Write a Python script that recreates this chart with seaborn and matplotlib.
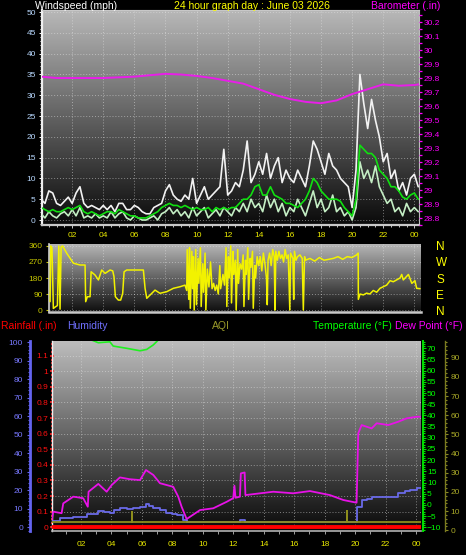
import numpy as np
import pandas as pd
import matplotlib
matplotlib.use("Agg")
import matplotlib.pyplot as plt
import seaborn as sns
from matplotlib.colors import LinearSegmentedColormap
from matplotlib.ticker import MultipleLocator, FixedLocator, FormatStrFormatter, NullFormatter

# ---------------- data ----------------
title = "24 hour graph day : June 03 2026"
hour_ticks = [2, 4, 6, 8, 10, 12, 14, 16, 18, 20, 22, 24]
hour_labels = ["02", "04", "06", "08", "10", "12", "14", "16", "18", "20", "22", "00"]

# wind, 15-minute samples starting at 00:00 (mph)
wind_hours = np.arange(0, 24.3, 0.25)
gust = [5, 4, 7, 6.5, 4, 3.5, 4.5, 5.5,
        4, 6.5, 8, 4, 3, 3.5, 3, 2.5,
        3.5, 2.5, 3.5, 2, 4, 4, 2.5, 2.5,
        3.5, 3, 2, 1.5, 1.5, 3, 3.5, 4,
        7, 8.5, 6, 5, 4.5, 6, 5, 10,
        4, 6, 8, 5, 6, 7, 8, 17,
        6, 7, 9, 8, 12, 19, 9, 11,
        14, 11, 16, 10, 13, 15, 9, 12,
        10, 9, 12, 10, 8, 13, 19, 17,
        14, 11, 16, 13, 12, 10, 9, 8,
        3, 12, 35, 28, 22, 29, 24, 20,
        14, 16, 10, 12, 7, 9, 6, 10,
        11, 8]
speed = [1.5, 0.5, 2, 1, 0.5, 1.5, 2, 1,
         2.5, 1, 3, 0.5, 1, 0.5, 1.5, 0.5,
         1, 0.5, 2, 0.5, 1.5, 2, 0.5, 0,
         1, 0.5, 0, 0, 0.5, 1, 0, 1.5,
         2, 3, 1.5, 2.5, 1, 2, 0.5, 3,
         1, 2, 3, 0.5, 1.5, 2.5, 1, 3,
         2, 1, 3, 2, 4, 2, 5, 3,
         4, 2, 6, 3, 5, 2, 4, 1,
         3, 2, 5, 3, 1, 4, 7, 3,
         5, 2, 3, 6, 2, 3, 1, 2,
         0, 3, 14, 10, 12, 9, 13, 8,
         6, 4, 5, 2, 3, 1, 4, 2,
         3, 2]
avg = [3, 2.5, 2, 2.5, 2, 2, 2.5, 3,
       2.5, 3, 3.5, 2, 1.5, 2, 1.5, 1,
       1.5, 2, 2, 1.5, 2.5, 2, 1.5, 1,
       1, 0.5, 0.5, 0.5, 1, 1.5, 2, 3,
       3.5, 4, 3.5, 3.5, 3, 3.5, 3, 2.5,
       3, 2.5, 2.5, 3, 2, 3, 2.5, 3,
       2.5, 3, 3, 4, 5, 5, 6, 8,
       8.5, 6, 6, 8, 6, 5.5, 5, 4,
       4, 3.5, 3, 4, 5, 7, 10, 9,
       7, 6, 5, 5, 5, 4.5, 3, 2,
       1, 5, 18, 17, 16, 16, 15, 12,
       11, 10, 8, 8, 7, 5.5, 5, 6,
       6.5, 5]

# barometer (inHg)
baro_hours = [0, 1, 2, 3, 4, 5, 6, 7, 8, 9, 10, 11, 12, 13, 14, 15, 16, 17, 18,
              19, 20, 21, 22, 23, 24, 24.3]
baro = [29.81, 29.80, 29.80, 29.80, 29.80, 29.805, 29.81, 29.82, 29.83, 29.825,
        29.815, 29.80, 29.78, 29.76, 29.72, 29.68, 29.65, 29.63, 29.62, 29.64,
        29.685, 29.72, 29.755, 29.745, 29.75, 29.755]

# wind direction (degrees)
dir_hours = [0.58, 0.62, 0.70, 0.79, 0.94, 1.05, 1.14, 1.22, 1.29, 1.39, 1.65, 2.08,
             2.51, 2.83, 2.87, 2.98, 3.15, 3.22, 3.47, 3.69, 3.90, 4.12, 4.44, 4.61,
             4.69, 4.78, 4.97, 5.12, 5.25, 5.34, 5.51, 6.58, 6.69, 6.80, 7.01, 7.33,
             7.65, 8.08, 8.51, 8.94, 9.26, 9.37,
             9.40, 9.50, 9.55, 9.60, 9.70, 9.75, 9.80, 9.85, 9.95, 10.0, 10.1, 10.15,
             10.25, 10.3, 10.4, 10.45, 10.55, 10.6, 10.7, 10.8, 10.9, 11.0, 11.1,
             11.2, 11.3, 11.4, 11.5, 11.55, 11.7, 11.8,
             11.9, 11.95, 12.05, 12.1, 12.2, 12.25, 12.35, 12.4, 12.5, 12.55, 12.65,
             12.7, 12.8, 12.9, 13.0, 13.05, 13.15, 13.2, 13.3, 13.35, 13.45, 13.5,
             13.6, 13.65, 13.75, 13.8, 13.9,
             14.0, 14.1, 14.2, 14.3, 14.4, 14.5, 14.55, 14.6, 14.7, 14.8, 14.9, 15.0,
             15.05, 15.1, 15.2, 15.3, 15.4, 15.5, 15.6, 15.7, 15.8, 15.9, 16.0, 16.05,
             16.2, 16.25, 16.3, 16.4, 16.5, 16.65, 16.8, 16.87, 16.95,
             17.0, 17.3, 17.6, 17.9, 18.2, 18.5, 18.8, 19.1, 19.4, 19.7, 20.0, 20.3,
             20.40, 20.41, 20.52, 20.73, 20.94, 21.15, 21.37, 21.59, 21.8, 22.23,
             22.45, 22.66, 23.09, 23.2, 23.3, 23.52, 23.63, 23.85, 24.05, 24.16, 24.38]
dir_deg = [47, 360, 350, 9, 19, 25, 360, 5, 355, 360, 319, 263,
           253, 253, 47, 75, 75, 215, 197, 169, 225, 206, 225, 220,
           188, 75, 56, 56, 94, 215, 225, 225, 122, 66, 84, 112,
           94, 103, 122, 131, 140, 110,
           340, 60, 350, 10, 330, 120, 300, 0, 340, 30, 290, 150,
           350, 20, 260, 100, 320, 0, 230, 130, 270, 120, 150,
           110, 140, 90, 250, 120, 200, 140,
           350, 20, 300, 180, 360, 40, 330, 200, 280, 0, 340,
           150, 260, 230, 310, 20, 280, 200, 350, 60, 290, 240,
           330, 10, 250, 180, 300,
           250, 300, 220, 320, 260, 180, 30, 280, 320, 250, 340, 300,
           0, 330, 280, 330, 290, 310, 270, 340, 290, 310, 0, 320,
           290, 60, 330, 280, 300, 310, 290, 0, 300,
           280, 290, 275, 295, 280, 285, 290, 300, 285, 300, 295, 310,
           320, 60, 90, 85, 95, 90, 110, 100, 122, 140,
           165, 159, 180, 200, 169, 190, 200, 150, 165, 122, 120]

# bottom panel
rain_hours = [0, 6, 12, 18, 24.4]
rain_in = [0.0, 0.0, 0.0, 0.0, 0.0]

hum_hours = [0.1, 0.6, 1.5, 2.4, 3.0, 3.1, 3.5, 3.9, 4.2, 4.55, 5.0, 5.4, 5.9, 6.25,
             6.5, 6.75, 7.2, 7.6, 8.0, 8.3, 8.7, 8.95, 12.45, 12.8, 20.15, 20.45,
             20.8, 21.1, 22.2, 22.85, 23.3, 23.6, 24.05, 24.33]
humidity = [3.4, 4.8, 5.7, 7.2, 7.0, 8.8, 8.2, 7.9, 9.2, 10.2, 9.8, 10.6, 11.0, 12.4,
            11.6, 10.2, 9.4, 7.9, 7.3, 6.6, 3.9, 3.0, 3.9, 3.0, 11.1, 14.7,
            15.5, 16.2, 16.5, 18.4, 19.4, 20.2, 21.0, 21.0]

aqi_hours = [0.1, 5.33, 5.38, 19.45, 19.5, 24.4]
aqi = [4.4, 9.5, 4.4, 9.8, 4.4, 4.4]

temp_hours = [0.1, 2.0, 2.59, 3.14, 3.9, 4.12, 5.0, 5.88, 6.32, 6.75, 7.08, 7.5,
              10, 14, 18, 22, 24.33]
temperature = [82, 78, 74.0, 72.5, 72.9, 71.0, 70.0, 68.9, 69.5, 71.5, 73.7, 76,
               84, 88, 85, 78, 76]

dew_hours = [0.1, 0.18, 0.73, 0.84, 1.5, 2.15, 2.45, 2.5, 3.14, 3.69, 4.02, 4.56,
             5.2, 5.88, 6.27, 6.75, 7.19, 8.06, 8.39, 8.61, 8.94, 9.82, 10.69, 11.57,
             12.0, 12.08, 12.15, 12.44, 12.5, 12.75, 12.8, 14.63, 15.94, 17.04, 18.35,
             19.23, 20.1, 20.21, 20.43, 21.09, 21.42, 22.18, 22.84, 23.39, 24.04, 24.33]
dew_point = [-6.5, -3.0, -3.7, 0.7, 3.7, 3.0, -0.8, 5.9, 9.4, 5.9, 8.9, 12.3,
             11.5, 11.1, 15.6, 13.4, 9.7, 8.1, 3.7, -0.8, -6.3, -2.3, -1.5, 1.4,
             3.0, 8.6, 3.2, 3.7, 14.1, 14.5, 4.4, 5.9, 5.2, 6.2, 4.4,
             2.2, 1.0, 32.0, 35.7, 34.2, 36.5, 35.7, 37.2, 38.7, 39.4, 39.4]

# ---------------- style ----------------
sns.set_theme(style="ticks", rc={"axes.facecolor": "black", "figure.facecolor": "black",
                                 "axes.axisbelow": True})
plt.rcParams["font.family"] = ["Liberation Sans", "DejaVu Sans"]

W, H = 466, 555
fig = plt.figure(figsize=(W / 100, H / 100), dpi=100, facecolor="black")


def rect(l, t, r, b):
    return [l / W, 1 - b / H, (r - l) / W, (b - t) / H]


def gradient(ax, top, bottom):
    cmap = LinearSegmentedColormap.from_list("g", [bottom, top])
    ax.imshow(np.linspace(1, 0, 256).reshape(-1, 1), cmap=cmap, vmin=0, vmax=1,
              aspect="auto", extent=[0, 1, 0, 1], transform=ax.transAxes, zorder=0,
              interpolation="bilinear")


def clear_labels(ax):
    ax.set_xlabel("")
    ax.set_ylabel("")


GRID = dict(color="#e6e6e6", ls=(0, (1, 2)), lw=0.7, alpha=0.5)
YEL = "#e8e800"

# ---------------- top panel: wind + barometer ----------------
ax1 = fig.add_axes(rect(42, 10, 419, 225))
gradient(ax1, "#b9b9b9", "#0a0a0a")
wind = pd.DataFrame({"hour": wind_hours, "gust": gust, "speed": speed, "avg": avg})
sns.lineplot(data=wind, x="hour", y="gust", ax=ax1, color="#f2f2f2", lw=1.2,
             estimator=None, zorder=3)
sns.lineplot(data=wind, x="hour", y="speed", ax=ax1, color="#c4eec4", lw=1.2,
             estimator=None, zorder=4)
sns.lineplot(data=wind, x="hour", y="avg", ax=ax1, color="#10e010", lw=1.2,
             estimator=None, zorder=5)
clear_labels(ax1)
ax1.set_xlim(0.06, 24.3)
ax1.set_ylim(-1.2, 50.5)
ax1.xaxis.set_major_locator(FixedLocator(hour_ticks))
ax1.set_xticklabels(hour_labels)
ax1.xaxis.set_minor_locator(MultipleLocator(0.5))
ax1.yaxis.set_major_locator(MultipleLocator(5))
ax1.yaxis.set_minor_locator(MultipleLocator(1))
ax1.grid(True, which="major", **GRID)
ax1.tick_params(axis="x", which="both", bottom=True, colors="#c8c8c8", labelcolor=YEL,
                labelsize=6, length=2, width=0.7, pad=3)
ax1.tick_params(axis="x", which="minor", length=1.5)
ax1.tick_params(axis="y", which="both", left=True, colors="white", labelcolor="#b8d8ff",
                labelsize=6, length=2, width=0.7, pad=2.5)
ax1.tick_params(axis="y", which="minor", length=1.2)
for s, c, w in [("left", "#f0f0f0", 1.6), ("bottom", "#c8c8c8", 1.6),
                ("top", "#c8c8c8", 0.8), ("right", "#bcbcbc", 0.8)]:
    ax1.spines[s].set_color(c)
    ax1.spines[s].set_linewidth(w)

ax1b = ax1.twinx()
bdf = pd.DataFrame({"hour": baro_hours, "baro": baro})
sns.lineplot(data=bdf, x="hour", y="baro", ax=ax1b, color="#e81ee8", lw=1.4,
             estimator=None)
clear_labels(ax1b)
ax1b.set_ylim(28.75, 30.286)
ax1b.set_xlim(0.06, 24.3)
ax1b.yaxis.set_major_locator(MultipleLocator(0.1))
ax1b.yaxis.set_minor_locator(MultipleLocator(0.05))
ax1b.yaxis.set_major_formatter(FormatStrFormatter("%g"))
ax1b.tick_params(axis="y", which="both", right=True, colors="#ff00ff", labelcolor="#ff00ff",
                 labelsize=6, length=2.5, width=0.9, pad=1)
for s in ax1b.spines.values():
    s.set_visible(False)

# ---------------- middle panel: wind direction ----------------
ax2 = fig.add_axes(rect(49, 244, 421, 312))
gradient(ax2, "#b6b6b6", "#0e0e0e")
ddf = pd.DataFrame({"hour": dir_hours, "deg": dir_deg})
sns.lineplot(data=ddf, x="hour", y="deg", ax=ax2, color="#f2f200", lw=1.1,
             estimator=None, sort=False, zorder=3)
clear_labels(ax2)
ax2.set_xlim(0.51, 24.44)
ax2.set_ylim(-11, 371)
ax2.xaxis.set_major_locator(FixedLocator(hour_ticks))
ax2.xaxis.set_major_formatter(NullFormatter())
ax2.yaxis.set_major_locator(FixedLocator([0, 90, 180, 270, 360]))
ax2.grid(True, which="major", **GRID)
ax2.tick_params(axis="x", bottom=False, length=0)
ax2.tick_params(axis="y", left=True, colors="#c8c800", labelcolor="#c8c800",
                labelsize=6, length=2.5, width=0.8, pad=2)
for s in ["top", "right"]:
    ax2.spines[s].set_visible(False)
ax2.spines["left"].set_color("#d0d0d0")
ax2.spines["left"].set_linewidth(1.2)
ax2.spines["bottom"].set_color("#c8c8c8")
ax2.spines["bottom"].set_linewidth(1.8)

ax2r = ax2.twinx()
ax2r.set_ylim(-11, 371)
ax2r.yaxis.set_major_locator(FixedLocator([0, 90, 180, 270, 360]))
ax2r.set_yticklabels(["N", "E", "S", "W", "N"])
ax2r.tick_params(axis="y", right=True, length=0, pad=11, labelsize=8.5,
                 labelcolor="#ffff00")
for s in ax2r.spines.values():
    s.set_visible(False)

# ---------------- bottom panel ----------------
ax3 = fig.add_axes(rect(52, 341, 421, 531))
gradient(ax3, "#bdbdbd", "#090909")
rdf = pd.DataFrame({"hour": rain_hours, "rain": rain_in})
sns.lineplot(data=rdf, x="hour", y="rain", ax=ax3, color="#ff0000", lw=2.8,
             estimator=None, zorder=3)
clear_labels(ax3)
ax3.set_xlim(0.1, 24.33)
ax3.set_ylim(-0.024, 1.194)
ax3.xaxis.set_major_locator(FixedLocator(hour_ticks))
ax3.set_xticklabels(hour_labels)
ax3.xaxis.set_minor_locator(MultipleLocator(1))
ax3.yaxis.set_major_locator(FixedLocator(np.round(np.arange(0, 1.15, 0.1), 1)))
ax3.yaxis.set_minor_locator(MultipleLocator(0.025))
ax3.yaxis.set_major_formatter(FormatStrFormatter("%g"))
ax3.grid(True, which="major", **GRID)
ax3.tick_params(axis="x", which="both", bottom=True, colors="#a0a0a0", labelcolor=YEL,
                labelsize=6, length=2, width=0.7, pad=5)
ax3.tick_params(axis="y", which="both", left=True, colors="#ff2020", labelcolor="#ff1010",
                labelsize=6, length=2.5, width=1.2, pad=1.5, direction="inout")
ax3.tick_params(axis="y", which="minor", length=2)
for s in ["top", "right"]:
    ax3.spines[s].set_visible(False)
ax3.spines["left"].set_color("#f0f0f0")
ax3.spines["left"].set_linewidth(1.0)
ax3.spines["bottom"].set_color("#b0b0b0")
ax3.spines["bottom"].set_linewidth(1.2)

# humidity axis (far left)
ax3h = ax3.twinx()
hdf = pd.DataFrame({"hour": hum_hours, "hum": humidity})
sns.lineplot(data=hdf, x="hour", y="hum", ax=ax3h, color="#6a6ae8", lw=1.3,
             drawstyle="steps-post", estimator=None, zorder=3)
clear_labels(ax3h)
ax3h.set_xlim(0.1, 24.33)
ax3h.set_ylim(-2.0, 100.7)
ax3h.spines["left"].set_position(("axes", -0.0596))
ax3h.spines["left"].set_visible(True)
ax3h.spines["left"].set_color("#6464f0")
ax3h.spines["left"].set_linewidth(2.0)
ax3h.spines["right"].set_visible(False)
ax3h.spines["top"].set_visible(False)
ax3h.spines["bottom"].set_visible(False)
ax3h.yaxis.set_ticks_position("left")
ax3h.yaxis.set_label_position("left")
ax3h.yaxis.set_major_locator(MultipleLocator(10))
ax3h.yaxis.set_minor_locator(MultipleLocator(2))
ax3h.tick_params(axis="y", which="both", left=True, right=False, colors="#6464f0",
                 labelcolor="#7878ff", labelsize=6, length=2, width=0.8, pad=3)
ax3h.tick_params(axis="y", which="minor", length=1.3)

# temperature / dew point axis (right)
ax3t = ax3.twinx()
tdf = pd.DataFrame({"hour": temp_hours, "temp": temperature})
ddp = pd.DataFrame({"hour": dew_hours, "dew": dew_point})
sns.lineplot(data=tdf, x="hour", y="temp", ax=ax3t, color="#20f020", lw=1.2,
             estimator=None, zorder=3)
sns.lineplot(data=ddp, x="hour", y="dew", ax=ax3t, color="#e812e8", lw=1.3,
             estimator=None, zorder=4)
clear_labels(ax3t)
ax3t.set_xlim(0.1, 24.33)
ax3t.set_ylim(-11.65, 73.26)
ax3t.spines["right"].set_position(("axes", 1.005))
ax3t.spines["right"].set_color("#00e000")
ax3t.spines["right"].set_linewidth(1.4)
for s in ["left", "top", "bottom"]:
    ax3t.spines[s].set_visible(False)
ax3t.yaxis.set_major_locator(MultipleLocator(5))
ax3t.yaxis.set_minor_locator(MultipleLocator(1))
ax3t.tick_params(axis="y", which="both", right=True, colors="#00e000",
                 labelcolor="#00ff00", labelsize=6, length=2, width=0.8, pad=1)
ax3t.tick_params(axis="y", which="minor", length=1.2)

# AQI axis (far right)
ax3a = ax3.twinx()
adf = pd.DataFrame({"hour": aqi_hours, "aqi": aqi})
sns.lineplot(data=adf, x="hour", y="aqi", ax=ax3a, color="#8e8e1c", lw=1.3,
             drawstyle="steps-post", estimator=None, zorder=5)
clear_labels(ax3a)
ax3a.set_xlim(0.1, 24.33)
ax3a.set_ylim(-0.4, 98.7)
ax3a.spines["right"].set_position(("axes", 1.065))
ax3a.spines["right"].set_color("#7a7a20")
ax3a.spines["right"].set_linestyle((0, (2, 1)))
ax3a.spines["right"].set_linewidth(1.0)
for s in ["left", "top", "bottom"]:
    ax3a.spines[s].set_visible(False)
ax3a.yaxis.set_major_locator(MultipleLocator(10))
ax3a.yaxis.set_minor_locator(MultipleLocator(2))
ax3a.tick_params(axis="y", which="both", right=True, colors="#8a8a22",
                 labelcolor="#a8a828", labelsize=6, length=2, width=0.8, pad=2)
ax3a.tick_params(axis="y", which="minor", length=1.2)

# ---------------- header texts ----------------
def ftext(x, y, s, color, ha="left", size=7.5):
    fig.text(x / W, 1 - y / H, s, color=color, ha=ha, va="center", fontsize=size)

ftext(35, 6, "Windspeed (mph)", "white")
ftext(252, 6, title, "#ffff00", ha="center")
ftext(440, 6, "Barometer (.in)", "#ff00ff", ha="right")
ftext(1, 326, "Rainfall (.in)", "#ff0000")
ftext(67, 326, "Humidity", "#7070ff")
ftext(221, 326, "AQI", "#9a9a2a", ha="center")
ftext(313, 326, "Temperature (°F)", "#00ff00")
ftext(395, 326, "Dew Point (°F)", "#ff00ff")

fig.savefig("out.png", dpi=100, facecolor="black")
